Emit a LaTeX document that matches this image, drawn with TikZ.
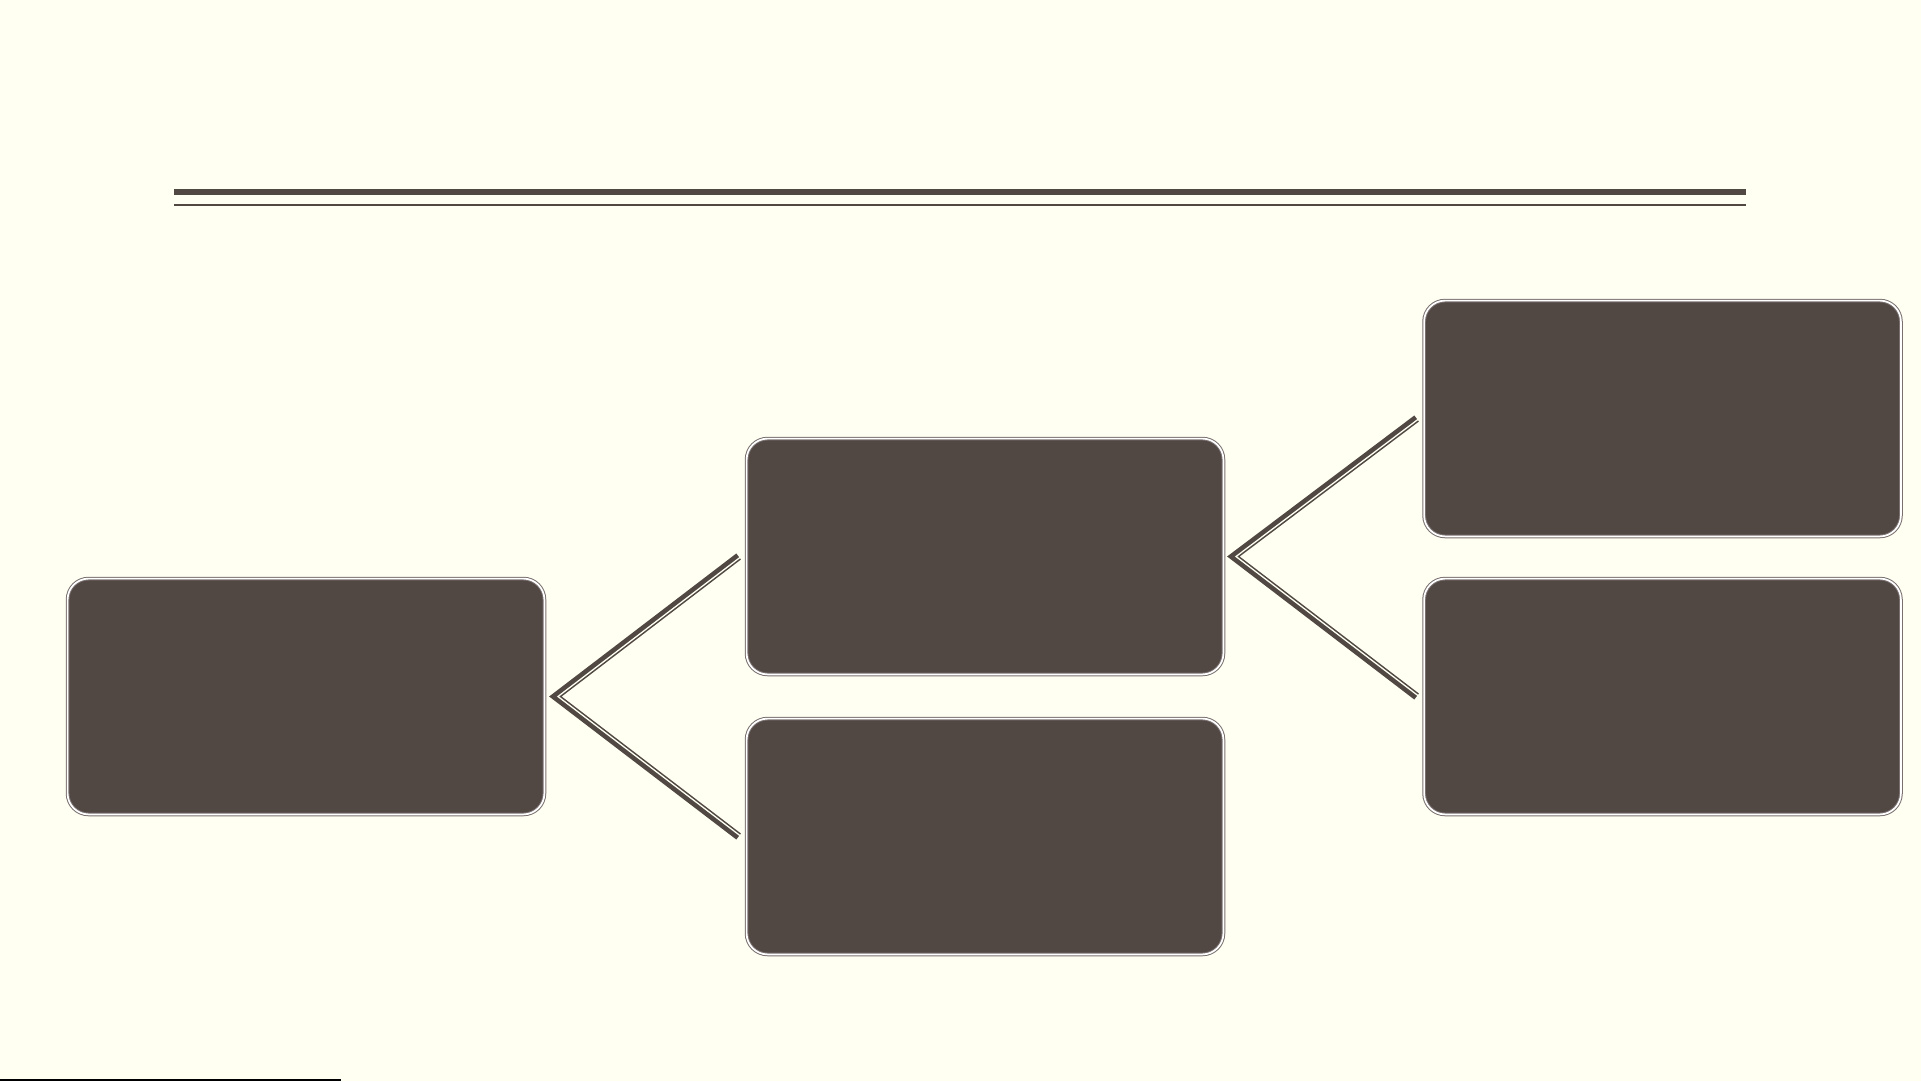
\documentclass[tikz,border=0pt]{standalone}
\usetikzlibrary{calc}
\definecolor{bgcream}{HTML}{FFFFF2}
\definecolor{boxfill}{HTML}{514844}
\definecolor{edgegray}{HTML}{7A7070}
\tikzset{
  x=1pt, y=-1pt,
  box/.style={rectangle, rounded corners=21pt, minimum width=476.8pt, minimum height=235.8pt,
    fill=boxfill, draw=edgegray, double=white, double distance=1.7pt, line width=1pt, inner sep=0pt},
  connector/.style={draw=boxfill, line width=7.6pt, line join=miter},
  connectorgap/.style={draw=bgcream, line width=1.3pt, line join=miter},
  rulethick/.style={draw=boxfill, line width=6pt},
  rulethin/.style={draw=boxfill, line width=2pt}
}
\begin{document}
\begin{tikzpicture}
\fill[bgcream] (0,0) rectangle (1921,1081);
\useasboundingbox (0,0) rectangle (1921,1081);
% title rules
\coordinate (r1a) at (174,192);
\coordinate (r1b) at (1746,192);
\coordinate (r2a) at (174,205);
\coordinate (r2b) at (1746,205);
\draw[rulethick] (r1a) -- (r1b);
\draw[rulethin] (r2a) -- (r2b);
% boxes
\node[box] (b1) at (306,696.5) {};
\node[box] (b2) at (985,556.5) {};
\node[box] (b3) at (985,836.5) {};
\node[box] (b4) at (1662.5,418.5) {};
\node[box] (b5) at (1662.5,696.5) {};
% connector points
\coordinate (v1) at ($(b1.east)+(10.5,0)$);
\coordinate (e2) at ($(b2.west)+(-7.5,0)$);
\coordinate (e3) at ($(b3.west)+(-7.5,0)$);
\coordinate (v2) at ($(b2.east)+(9.5,0)$);
\coordinate (e4) at ($(b4.west)+(-7,0)$);
\coordinate (e5) at ($(b5.west)+(-7,0)$);
\draw[connector] (e2) -- (v1) -- (e3);
\draw[connectorgap, transform canvas={xshift=2.6pt}] (e2) -- (v1) -- (e3);
\draw[connector] (e4) -- (v2) -- (e5);
\draw[connectorgap, transform canvas={xshift=2.6pt}] (e4) -- (v2) -- (e5);
% bottom-left line
\coordinate (bl1) at (0,1079.5);
\coordinate (bl2) at (341,1079.5);
\draw[black, line width=2pt] (bl1) -- (bl2);
\end{tikzpicture}
\end{document}
